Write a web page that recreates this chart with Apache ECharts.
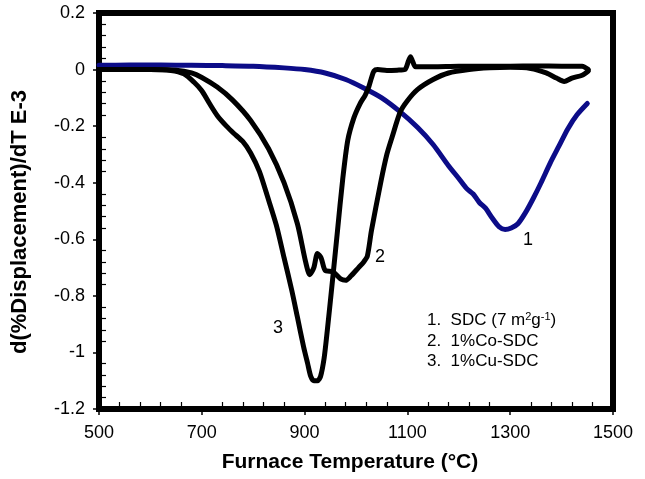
<!DOCTYPE html>
<html>
<head>
<meta charset="utf-8">
<script src="https://cdn.jsdelivr.net/npm/echarts@6/dist/echarts.min.js"></script>
<style>html,body{margin:0;padding:0;background:#fff;}#c{width:645px;height:479px;}</style>
</head>
<body>
<div id="c"></div>
<script>
// ---- data ----
const tempSDC = [500, 560, 620, 680, 740, 800, 860, 900, 940, 980, 1015, 1050, 1085, 1120, 1150, 1180, 1200, 1215, 1228, 1240, 1252, 1265, 1278, 1290, 1302, 1315, 1330, 1345, 1360, 1378, 1395, 1412, 1430, 1450];
const valSDC  = [0.015, 0.016, 0.016, 0.015, 0.014, 0.012, 0.006, 0.0, -0.012, -0.035, -0.065, -0.1, -0.148, -0.205, -0.265, -0.34, -0.385, -0.42, -0.44, -0.47, -0.49, -0.525, -0.555, -0.565, -0.56, -0.545, -0.505, -0.455, -0.40, -0.33, -0.27, -0.21, -0.16, -0.12];

const tempCo = [500, 600, 650, 680, 700, 730, 760, 795, 830, 860, 886, 902, 910, 918, 925, 932, 940, 955, 970, 980, 990, 1005, 1015, 1022, 1030, 1048, 1060, 1070, 1086, 1100, 1120, 1150, 1180, 1220, 1260, 1300, 1340, 1370, 1390, 1405, 1420, 1440, 1452];
const valCo  = [0, 0, -0.002, -0.012, -0.028, -0.062, -0.108, -0.18, -0.28, -0.40, -0.545, -0.68, -0.725, -0.70, -0.65, -0.665, -0.71, -0.715, -0.74, -0.745, -0.73, -0.70, -0.68, -0.66, -0.57, -0.40, -0.30, -0.24, -0.15, -0.11, -0.07, -0.035, -0.012, 0.0, 0.006, 0.008, 0.004, -0.012, -0.03, -0.042, -0.03, -0.02, -0.005];

const tempCu = [500, 600, 640, 665, 685, 700, 715, 731, 748, 762, 780, 795, 812, 828, 845, 860, 875, 886, 898, 906, 912, 918, 925, 931, 938, 944, 954, 964, 974, 984, 996, 1008, 1018, 1025, 1030, 1035, 1042, 1060, 1080, 1095, 1102, 1106, 1110, 1116, 1150, 1200, 1250, 1300, 1350, 1400, 1440, 1452];
const valCu  = [0, 0, -0.003, -0.015, -0.045, -0.075, -0.12, -0.165, -0.2, -0.225, -0.255, -0.295, -0.36, -0.45, -0.55, -0.665, -0.78, -0.875, -0.98, -1.04, -1.085, -1.10, -1.10, -1.085, -1.02, -0.925, -0.75, -0.57, -0.39, -0.25, -0.17, -0.12, -0.09, -0.06, -0.03, -0.005, 0.0, -0.003, -0.002, 0.0, 0.03, 0.045, 0.03, 0.01, 0.01, 0.012, 0.012, 0.012, 0.013, 0.012, 0.012, 0.0];

const xTicks = [500, 700, 900, 1100, 1300, 1500];
const yTicks = [-1.2, -1, -0.8, -0.6, -0.4, -0.2, 0, 0.2];
const legendLines = ['1.  SDC (7 m{sup|2}g{sup|-1})', '2.  1%Co-SDC', '3.  1%Cu-SDC'];
const curveLabels = ['1', '2', '3'];
const xTitle = 'Furnace Temperature (°C)';
const yTitle = 'd(%Displacement)/dT E-3';

function pairs(xs, ys) { return xs.map((x, i) => [x, ys[i]]); }

const FONT = 'Liberation Sans, Arial, Helvetica, sans-serif';
const chart = echarts.init(document.getElementById('c'), null, {renderer: 'canvas'});

const xBase = {
  type: 'value', min: xTicks[0], max: xTicks[xTicks.length - 1], interval: 200,
  position: 'bottom', splitLine: {show: false}
};
const yBase = {
  type: 'value', min: yTicks[0], max: yTicks[yTicks.length - 1], interval: 0.2,
  position: 'left', splitLine: {show: false}
};

const lineStyleBlack = {color: '#000', width: 5, cap: 'round', join: 'round'};

chart.setOption({
  animation: false,
  backgroundColor: '#fff',
  grid: {left: 99, right: 32, top: 13, bottom: 70, show: true, borderWidth: 6, borderColor: '#000', backgroundColor: 'transparent'},
  xAxis: [
    Object.assign({}, xBase, {
      axisLine: {show: false, onZero: false},
      axisTick: {show: true, inside: false, length: 6, lineStyle: {color: '#000', width: 1.5}},
      axisLabel: {show: true, color: '#000', fontSize: 18, fontFamily: FONT, margin: 15, formatter: v => String(v)}
    }),
    Object.assign({}, xBase, {
      axisLine: {show: false, onZero: false},
      axisTick: {show: false, inside: true},
      axisLabel: {show: false},
      minorTick: {show: true, splitNumber: 5, length: 7, lineStyle: {color: '#000', width: 1.2}}
    })
  ],
  yAxis: [
    Object.assign({}, yBase, {
      axisLine: {show: false, onZero: false},
      axisTick: {show: true, inside: false, length: 6, lineStyle: {color: '#000', width: 1.5}},
      axisLabel: {show: true, color: '#000', fontSize: 18, fontFamily: FONT, margin: 14}
    }),
    Object.assign({}, yBase, {
      axisLine: {show: false, onZero: false},
      axisTick: {show: false, inside: true},
      axisLabel: {show: false},
      minorTick: {show: true, splitNumber: 5, length: 7, lineStyle: {color: '#000', width: 1.2}}
    })
  ],
  series: [
    {name: 'SDC', type: 'line', xAxisIndex: 0, yAxisIndex: 0, data: pairs(tempSDC, valSDC), showSymbol: false, smooth: 0.25,
     lineStyle: {color: '#0c0c88', width: 5, cap: 'round', join: 'round'}, z: 2},
    {name: '1%Co-SDC', type: 'line', xAxisIndex: 0, yAxisIndex: 0, data: pairs(tempCo, valCo), showSymbol: false, smooth: 0.25,
     lineStyle: lineStyleBlack, z: 3},
    {name: '1%Cu-SDC', type: 'line', xAxisIndex: 0, yAxisIndex: 0, data: pairs(tempCu, valCu), showSymbol: false, smooth: 0.25,
     lineStyle: lineStyleBlack, z: 3}
  ],
  graphic: [
    {type: 'text', x: 350, y: 462, style: {text: xTitle, fill: '#000', font: 'bold 21px ' + FONT, align: 'center', verticalAlign: 'middle'}},
    {type: 'text', x: 20, y: 222, rotation: Math.PI / 2, style: {text: yTitle, fill: '#000', font: 'bold 22px ' + FONT, align: 'center', verticalAlign: 'middle'}},
    {type: 'text', x: 528, y: 240, style: {text: curveLabels[0], fill: '#000', font: '18px ' + FONT, align: 'center', verticalAlign: 'middle'}},
    {type: 'text', x: 380, y: 257, style: {text: curveLabels[1], fill: '#000', font: '18px ' + FONT, align: 'center', verticalAlign: 'middle'}},
    {type: 'text', x: 278, y: 328, style: {text: curveLabels[2], fill: '#000', font: '18px ' + FONT, align: 'center', verticalAlign: 'middle'}},
    {type: 'text', x: 427, y: 320, style: {text: legendLines[0], fill: '#000', font: '17px ' + FONT, verticalAlign: 'middle',
      rich: {sup: {fontSize: 11, fontFamily: FONT, verticalAlign: 'top', lineHeight: 12, padding: [0, 0, 6, 0]}}}},
    {type: 'text', x: 427, y: 341, style: {text: legendLines[1], fill: '#000', font: '17px ' + FONT, verticalAlign: 'middle'}},
    {type: 'text', x: 427, y: 361, style: {text: legendLines[2], fill: '#000', font: '17px ' + FONT, verticalAlign: 'middle'}}
  ]
});
</script>
</body>
</html>
